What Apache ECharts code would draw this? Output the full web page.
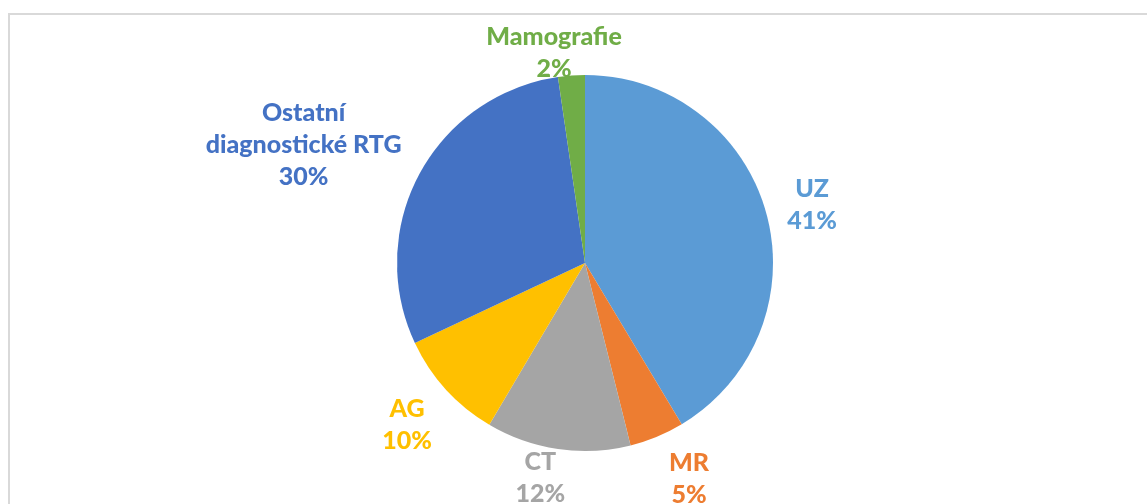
<!DOCTYPE html>
<html>
<head>
<meta charset="utf-8">
<script src="https://cdn.jsdelivr.net/npm/echarts@6/dist/echarts.min.js"></script>
<style>
  html, body { margin: 0; padding: 0; background: #fff; overflow: hidden; }
  #wrap { position: relative; width: 1147px; height: 504px; overflow: hidden; }
  #frame {
    position: absolute; left: 8px; top: 13px; width: 1300px; height: 700px;
    border: 2px solid #d9d9d9; box-sizing: border-box;
  }
  #chart { position: absolute; left: 0; top: 0; width: 1147px; height: 504px; }
</style>
</head>
<body>
<div id="wrap">
  <div id="frame"></div>
  <div id="chart"></div>
</div>
<script>
  // modality share (%), labels are rounded to whole percent
  var categories = ['UZ', 'MR', 'CT', 'AG', 'Ostatní\ndiagnostické RTG', 'Mamografie'];
  var shares = [41.4, 4.7, 12.4, 9.5, 29.7, 2.3];
  var colors = ['#5B9BD5', '#ED7D31', '#A5A5A5', '#FFC000', '#4472C4', '#70AD47'];
  // small nudges so the labels sit like Excel's "best fit"
  var labelNudge = [[5, 3], [14, -1], [-11, -16], [-2, 2], [-11, 27], [-14, 24]];

  var cx = 585, cy = 263, rad = 188, gap = 10;
  var total = shares.reduce(function (a, b) { return a + b; }, 0);
  var midAngles = [];
  var acc = 0;
  shares.forEach(function (v) {
    midAngles.push((acc + v / 2) / total * Math.PI * 2);
    acc += v;
  });

  var pieData = categories.map(function (name, i) {
    return {
      name: name,
      value: shares[i],
      itemStyle: { color: colors[i] },
      label: { color: colors[i] }
    };
  });

  var myChart = echarts.init(document.getElementById('chart'));
  var option = {
    animation: false,
    series: [{
      type: 'pie',
      center: [cx, cy],
      radius: rad,
      startAngle: 90,
      clockwise: true,
      percentPrecision: 0,
      data: pieData,
      itemStyle: { borderWidth: 0 },
      label: {
        show: true,
        position: 'outside',
        formatter: '{b}\n{d}%',
        fontFamily: 'Lato',
        fontWeight: 900,
        fontSize: 25,
        lineHeight: 32,
        align: 'center'
      },
      labelLine: { show: false },
      labelLayout: function (params) {
        var i = params.dataIndex;
        var a = midAngles[i];
        var s = Math.sin(a), c = Math.cos(a);
        var w = params.labelRect.width, h = params.labelRect.height;
        var ext = Math.abs(w / 2 * s) + Math.abs(h / 2 * c);
        var d = rad + gap + ext;
        return {
          x: cx + d * s + labelNudge[i][0],
          y: cy - d * c + labelNudge[i][1],
          align: 'center',
          verticalAlign: 'middle'
        };
      }
    }]
  };
  myChart.setOption(option);
</script>
</body>
</html>
